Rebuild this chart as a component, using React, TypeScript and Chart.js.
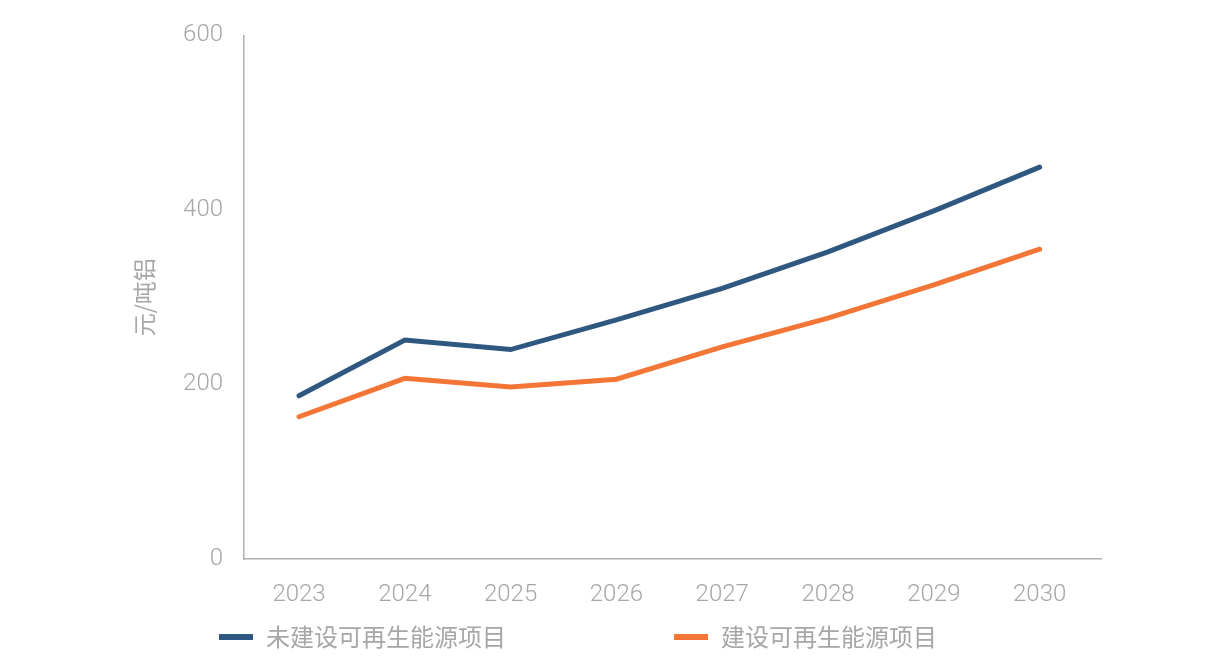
import { useEffect, useRef } from "react"
import { Chart, registerables, type ChartConfiguration, type Plugin } from "chart.js"

Chart.register(...registerables)

const years = [2023, 2024, 2025, 2026, 2027, 2028, 2029, 2030]
const withoutRenewables = [187, 251, 240, 274, 310, 352, 399, 449]
const withRenewables = [163, 207, 197, 206, 243, 276, 314, 355]
const yTicks = [0, 200, 400, 600]

const seriesNames = ["未建设可再生能源项目", "建设可再生能源项目"]
const seriesColors = ["#2f5880", "#f37636"]

const GRAY = "#a6a6a6"
const AXIS = "#b0b0b0"
const NUM_FONT = "Roboto"
const CJK_FONT = "'Noto Sans CJK SC'"

// legend drawn by hand so the two items can sit far apart
const bottomLegend: Plugin<"line"> = {
  id: "bottomLegend",
  afterDraw(chart) {
    const { ctx } = chart
    const y = 637
    let x = chart.chartArea.left - 25
    ctx.save()
    ctx.font = `24px ${CJK_FONT}`
    ctx.textBaseline = "middle"
    ctx.textAlign = "left"
    chart.data.datasets.forEach((ds) => {
      const label = String(ds.label ?? "")
      ctx.fillStyle = String(ds.borderColor)
      ctx.fillRect(x, y - 3, 34, 6)
      ctx.fillStyle = GRAY
      ctx.fillText(label, x + 47, y)
      x += 47 + ctx.measureText(label).width + 168
    })
    ctx.restore()
  },
}

export default function App() {
  const chartRef = useRef<HTMLCanvasElement>(null)
  const chartInstance = useRef<Chart | null>(null)

  useEffect(() => {
    if (!chartRef.current) return
    const ctx = chartRef.current.getContext("2d")
    if (!ctx) return

    if (chartInstance.current) {
      chartInstance.current.destroy()
    }

    const config: ChartConfiguration<"line"> = {
      type: "line",
      data: {
        datasets: [
          {
            label: seriesNames[0],
            data: years.map((x, i) => ({ x, y: withoutRenewables[i] })),
            borderColor: seriesColors[0],
            backgroundColor: seriesColors[0],
            borderWidth: 5,
            borderCapStyle: "round",
            pointRadius: 0,
            tension: 0,
          },
          {
            label: seriesNames[1],
            data: years.map((x, i) => ({ x, y: withRenewables[i] })),
            borderColor: seriesColors[1],
            backgroundColor: seriesColors[1],
            borderWidth: 5,
            borderCapStyle: "round",
            pointRadius: 0,
            tension: 0,
          },
        ],
      },
      options: {
        animation: false,
        responsive: true,
        maintainAspectRatio: false,
        layout: {
          padding: { left: 0, top: 35, right: 105, bottom: 53 },
        },
        plugins: {
          legend: { display: false },
          tooltip: { enabled: false },
        },
        scales: {
          x: {
            type: "linear",
            min: 2022.48,
            max: 2030.58,
            afterBuildTicks: (scale) => {
              scale.ticks = years.map((v) => ({ value: v }))
            },
            afterFit: (scale) => {
              scale.height = 51
            },
            grid: { display: false, drawTicks: false },
            border: { display: true, color: AXIS, width: 1.5 },
            ticks: {
              padding: 22,
              color: GRAY,
              maxRotation: 0,
              font: { family: NUM_FONT, size: 24, weight: 300 },
              callback: (v) => String(v),
            },
          },
          y: {
            min: 0,
            max: 600,
            afterBuildTicks: (scale) => {
              scale.ticks = yTicks.map((v) => ({ value: v }))
            },
            afterFit: (scale) => {
              scale.width = 244
            },
            grid: { display: false, drawTicks: false },
            border: { display: true, color: AXIS, width: 1.5 },
            ticks: {
              padding: 21,
              color: GRAY,
              font: { family: NUM_FONT, size: 24, weight: 300 },
            },
            title: {
              display: true,
              text: "元/吨铝",
              color: GRAY,
              font: { family: CJK_FONT, size: 23 },
              padding: { top: 130, bottom: 0 },
            },
          },
        },
      },
      plugins: [bottomLegend],
    }

    chartInstance.current = new Chart(ctx, config)

    return () => {
      if (chartInstance.current) {
        chartInstance.current.destroy()
        chartInstance.current = null
      }
    }
  }, [])

  return (
    <div style={{ position: "absolute", left: 0, top: 0, width: 1206, height: 663, background: "#fff" }}>
      <canvas ref={chartRef}></canvas>
    </div>
  )
}
